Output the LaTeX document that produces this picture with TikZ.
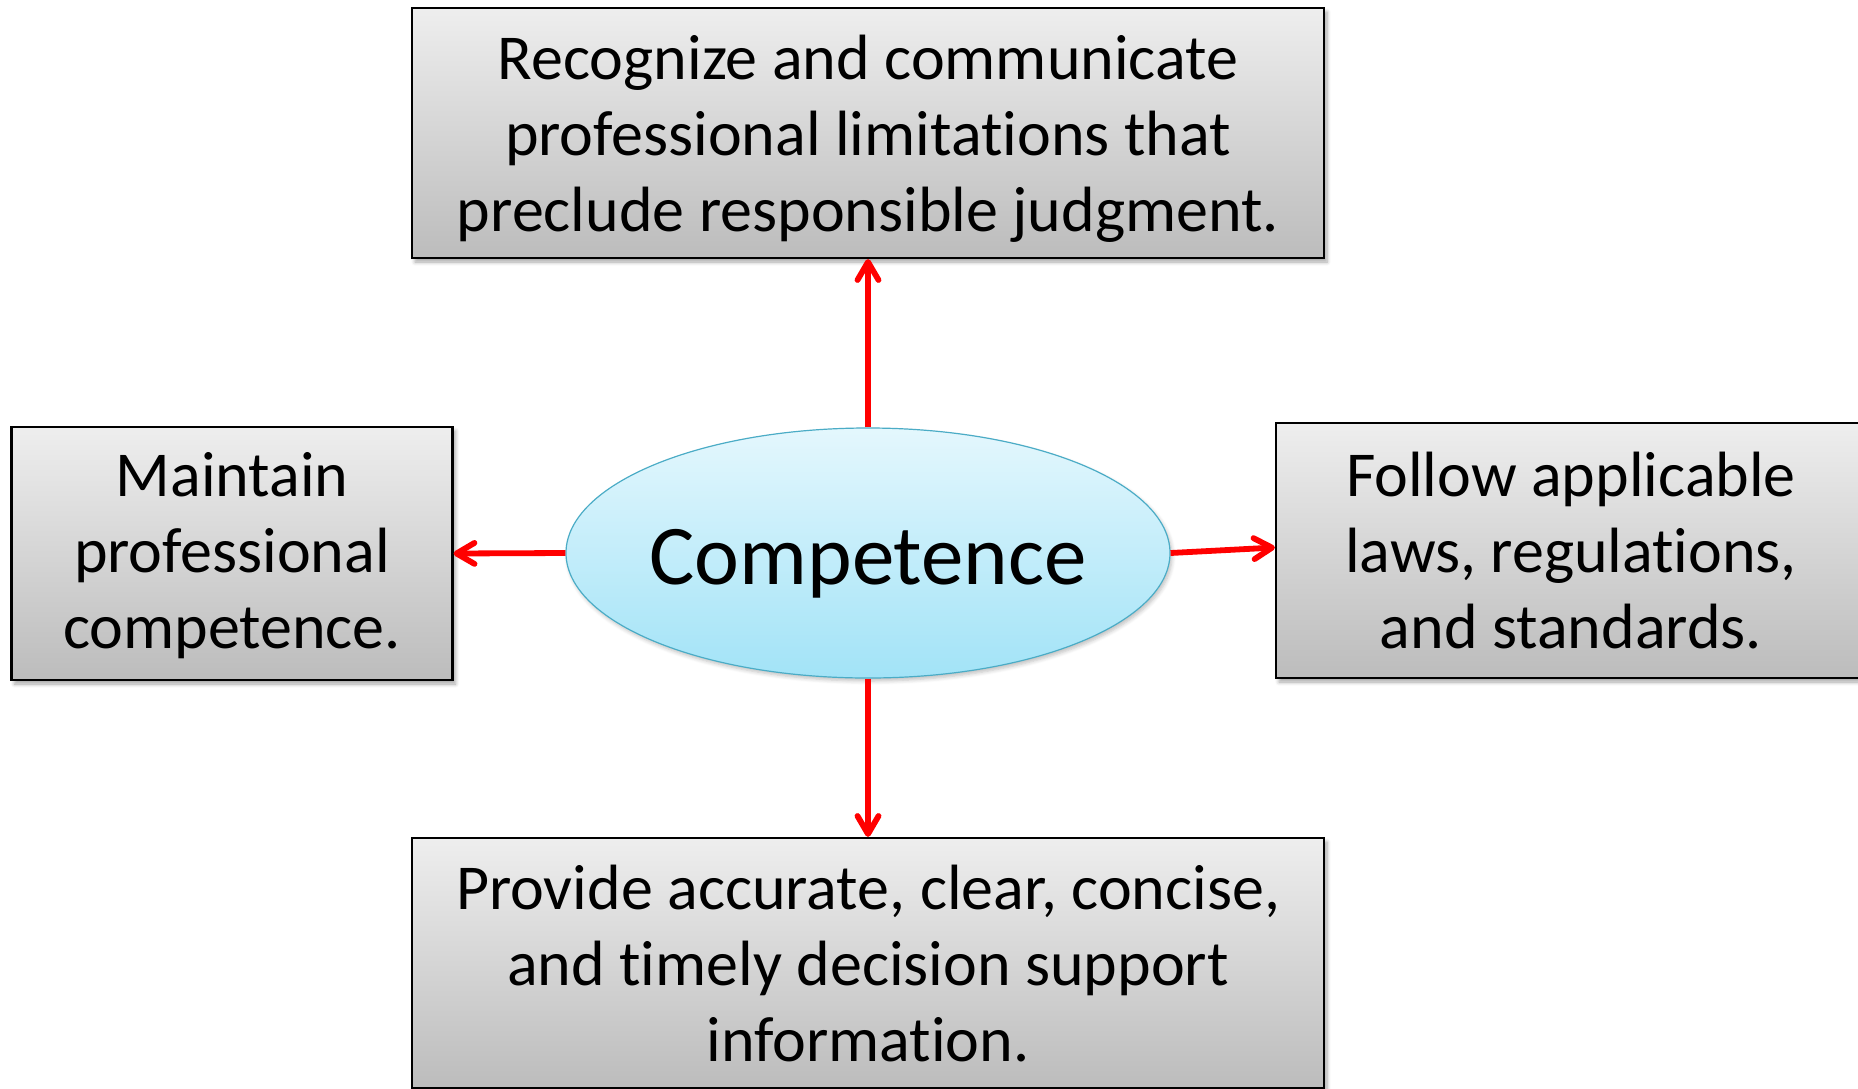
\documentclass[tikz,border=0pt]{standalone}
\usepackage{fontspec}
\setmainfont[Ligatures=NoCommon]{Carlito}
\usetikzlibrary{arrows.meta,shapes.geometric,shadows.blur}
\definecolor{boxtop}{HTML}{EEEEEE}
\definecolor{boxbot}{HTML}{BCBCBC}
\definecolor{elltop}{HTML}{E4F7FD}
\definecolor{ellbot}{HTML}{A2E3F7}
\definecolor{elldraw}{HTML}{4BACC6}
\definecolor{arrred}{HTML}{FF0000}
\tikzset{
  x=0.5pt, y=-0.5pt,
  infobox/.style={rectangle, draw=black, line width=1.1pt, top color=boxtop, bottom color=boxbot,
    inner sep=0pt,
    blur shadow={shadow xshift=1.5pt, shadow yshift=-2pt, shadow blur steps=6, shadow opacity=35}},
  boxtext/.style={inner sep=0pt, align=center, font=\fontsize{32}{38}\selectfont},
  centre/.style={ellipse, draw=elldraw, line width=0.6pt, top color=elltop, bottom color=ellbot,
    inner sep=0pt, minimum width=302pt, minimum height=125pt,
    blur shadow={shadow xshift=1pt, shadow yshift=-1.5pt, shadow blur steps=5, shadow opacity=25}},
  centretext/.style={inner sep=0pt, anchor=base, font=\fontsize{42.5}{46}\selectfont},
  link/.style={draw=arrred, line width=2.9pt, -{Straight Barb[length=9pt, width=10.5pt, line width=2.9pt, round]}}
}
\begin{document}
\begin{tikzpicture}
\useasboundingbox (0,0) rectangle (1858,1088);
\clip (0,0) rectangle (1858,1088);
\node[infobox, minimum width=456pt, minimum height=125pt] (top) at (868,133) {};
\node[boxtext] (toptext) at ([yshift=-2.8pt]top.center)
  {Recognize and communicate\\professional limitations that\\preclude responsible judgment.};
\node[infobox, minimum width=220.5pt, minimum height=126.5pt] (left) at (232,553.5) {};
\node[boxtext] (lefttext) at ([yshift=-1.2pt]left.center)
  {Maintain\\professional\\competence.};
\node[infobox, minimum width=295pt, minimum height=127.5pt] (right) at (1571,550.5) {};
\node[boxtext] (righttext) at (right.center)
  {Follow applicable\\laws, regulations,\\and standards.};
\node[infobox, minimum width=456pt, minimum height=125pt] (bottom) at (868,963) {};
\node[boxtext] (bottomtext) at ([yshift=-0.5pt]bottom.center)
  {Provide accurate, clear, concise,\\and timely decision support\\information.};
\node[centre] (comp) at (868,553) {};
\node[centretext] (comptext) at ([yshift=-15.7pt]comp.center) {Competence};
\draw[link] (comp.north) -- (top.south);
\draw[link] (comp.west) -- (left.east);
\draw[link] (comp.east) -- ([yshift=1.5pt]right.west);
\draw[link] (comp.south) -- (bottom.north);
\end{tikzpicture}
\end{document}
